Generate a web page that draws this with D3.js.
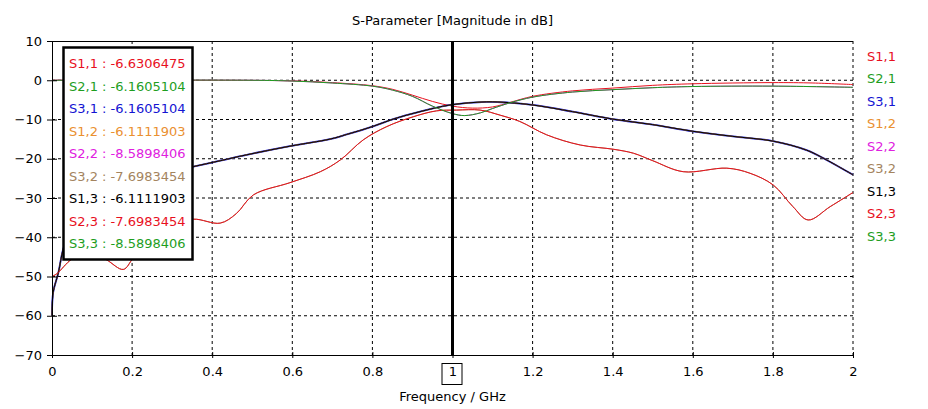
<!DOCTYPE html>
<html>
<head>
<meta charset="utf-8">
<script src="https://cdn.jsdelivr.net/npm/d3@7"></script>
<style>
  body { margin: 0; background: #fff; }
  text { font-family: "DejaVu Sans", sans-serif; font-size: 13px; }
</style>
</head>
<body>
<div id="chart"></div>
<script>
// series order (drawing order as in the legend)
var seriesNames = ["S1,1", "S2,1", "S3,1", "S1,2", "S2,2", "S3,2", "S1,3", "S2,3", "S3,3"];
var markerValues = ["-6.6306475", "-6.1605104", "-6.1605104", "-6.1111903", "-8.5898406",
                    "-7.6983454", "-6.1111903", "-7.6983454", "-8.5898406"];
var seriesColors = ["#e8101e", "#1e9e1e", "#1414d2", "#ea9030", "#e020e0",
                    "#a4845e", "#000000", "#e8101e", "#1e9e1e"];

// S1,1 (reflection at port 1)
var freqRefl = [0, 0.5, 0.6, 0.7, 0.8, 0.85, 0.9, 0.95, 1.0, 1.05, 1.1, 1.145, 1.2, 1.3, 1.4, 1.5, 1.6, 1.8, 1.9, 2];
var s11 = [0, -0.05, -0.15, -0.6, -1.4, -2.3, -3.8, -5.4, -6.6, -7.1, -6.8, -5.6, -4.1, -2.7, -2.0, -1.3, -0.9, -0.6, -0.7, -1.1];

// S2,1 / S3,1 / S1,2 / S1,3 (transmission)
var freqTrans = [0, 0.003, 0.016, 0.028, 0.05, 0.1, 0.2, 0.3, 0.353, 0.42, 0.486, 0.594, 0.694, 0.736, 0.8, 0.852,
                 0.919, 0.994, 1.085, 1.14, 1.2, 1.3, 1.4, 1.5, 1.6, 1.7, 1.8, 1.884, 1.934, 2];
var s21 = [-60, -54, -49, -43, -37, -30, -25.5, -23.2, -22.0, -20.5, -19.0, -16.8, -15.0, -13.8, -11.8, -9.9,
           -8.0, -6.3, -5.5, -5.7, -6.3, -8.0, -9.9, -11.3, -13.0, -14.3, -15.5, -17.8, -20.3, -24.1];

// S2,2 / S3,3
var freqDip = [0, 0.5, 0.6, 0.7, 0.8, 0.85, 0.9, 0.95, 1.0, 1.03, 1.07, 1.1, 1.145, 1.2, 1.3, 1.4, 1.5, 1.6, 1.8, 2];
var s22 = [0, 0, -0.2, -0.7, -1.5, -2.5, -4.1, -6.6, -8.5, -9.0, -8.3, -7.2, -5.7, -4.3, -3.0, -2.4, -1.9, -1.6, -1.5, -1.8];

// S3,2 / S2,3
var freqWavy = [0, 0.012, 0.049, 0.08, 0.11, 0.137, 0.178, 0.203, 0.25, 0.3, 0.353, 0.42, 0.46, 0.503, 0.594, 0.67,
                0.72, 0.777, 0.836, 0.902, 0.96, 1.01, 1.069, 1.119, 1.168, 1.235, 1.319, 1.403, 1.452, 1.5, 1.576,
                1.685, 1.743, 1.801, 1.85, 1.888, 1.943, 2];
var s32 = [-50, -49.3, -45.6, -44.3, -44.5, -45.8, -48.2, -45.3, -40.5, -37, -35.4, -36.4, -34, -29.2, -26.1, -23.3,
           -20.3, -15.2, -11.8, -9.3, -7.8, -7.6, -7.6, -8.9, -10.5, -13.9, -16.5, -17.6, -18.6, -20.5, -23.3,
           -22.4, -23.7, -26.7, -32.2, -35.6, -32.2, -28.6];

var seriesFreq = [freqRefl, freqTrans, freqTrans, freqTrans, freqDip, freqWavy, freqTrans, freqWavy, freqDip];
var seriesVals = [s11, s21, s21, s21, s22, s32, s21, s32, s22];
var seriesWidth = [1, 1, 1.8, 1, 1, 1, 1, 1, 1];

var xTicks = [0, 0.2, 0.4, 0.6, 0.8, 1, 1.2, 1.4, 1.6, 1.8, 2];
var yTicks = [10, 0, -10, -20, -30, -40, -50, -60, -70];
var markerFreq = 1;

var width = 928, height = 409;
var margin = {left: 52, right: 75, top: 41, bottom: 54};

var svg = d3.select("#chart")
    .append("svg")
    .attr("width", width)
    .attr("height", height);

svg.append("rect").attr("width", width).attr("height", height).attr("fill", "#fff");

var x = d3.scaleLinear().domain([0, 2]).range([margin.left, width - margin.right]);
var y = d3.scaleLinear().domain([-70, 10]).range([height - margin.bottom, margin.top]);

// grid
svg.append("g").selectAll("line")
    .data(xTicks.slice(1))
  .enter().append("line")
    .attr("x1", function(d) { return x(d); })
    .attr("x2", function(d) { return x(d); })
    .attr("y1", y(10)).attr("y2", y(-70))
    .attr("stroke", "#000").attr("stroke-dasharray", "3,3");

svg.append("g").selectAll("line")
    .data(yTicks.slice(1, -1))
  .enter().append("line")
    .attr("x1", x(0)).attr("x2", x(2))
    .attr("y1", function(d) { return y(d); })
    .attr("y2", function(d) { return y(d); })
    .attr("stroke", "#000").attr("stroke-dasharray", "3,3");

svg.append("line")
    .attr("x1", x(0)).attr("x2", x(2))
    .attr("y1", y(10) + 0.5).attr("y2", y(10) + 0.5)
    .attr("stroke", "#000");

// curves
var line = d3.line().curve(d3.curveCatmullRom.alpha(0.5));
var plot = svg.append("g");

seriesNames.forEach(function(name, i) {
  var pts = seriesFreq[i].map(function(f, j) { return [x(f), y(seriesVals[i][j])]; });
  plot.append("path")
      .attr("d", line(pts))
      .attr("fill", "none")
      .attr("stroke", seriesColors[i])
      .attr("stroke-width", seriesWidth[i]);
});

// marker line
svg.append("line")
    .attr("x1", x(markerFreq)).attr("x2", x(markerFreq))
    .attr("y1", y(10)).attr("y2", y(-70))
    .attr("stroke", "#000").attr("stroke-width", 3);

// axes
var yAxis = svg.append("g")
    .attr("transform", "translate(" + x(0) + ",0)")
    .call(d3.axisLeft(y).tickValues(yTicks).tickSize(5).tickPadding(5));
yAxis.selectAll(".tick line").attr("x1", 5);
yAxis.select(".domain").attr("d", "M0.5," + y(10) + "V" + y(-70));

var xAxis = svg.append("g")
    .attr("transform", "translate(0," + y(-70) + ")")
    .call(d3.axisBottom(x).tickValues(xTicks).tickSize(3).tickPadding(9)
      .tickFormat(function(d) { return d3.format("~g")(d); }));
xAxis.selectAll(".tick line").attr("y1", -3);
xAxis.select(".domain").attr("d", "M" + x(0) + ",0.5H" + x(2));

svg.selectAll(".tick text")
    .attr("fill", "#000")
    .style("font-family", "DejaVu Sans, sans-serif").style("font-size", "13px");

// box around the marker frequency label
svg.append("rect")
    .attr("x", x(markerFreq) - 10.5).attr("y", y(-70) + 8.5)
    .attr("width", 20).attr("height", 21)
    .attr("fill", "none").attr("stroke", "#000");

// titles
svg.append("text")
    .attr("x", (x(0) + x(2)) / 2).attr("y", 25)
    .attr("text-anchor", "middle")
    .text("S-Parameter [Magnitude in dB]");

svg.append("text")
    .attr("x", x(markerFreq)).attr("y", 401)
    .attr("text-anchor", "middle")
    .text("Frequency / GHz");

// marker value box
var box = svg.append("g");
box.append("rect")
    .attr("x", 63.5).attr("y", 47.5)
    .attr("width", 129).attr("height", 212)
    .attr("fill", "#fff").attr("stroke", "#000").attr("stroke-width", 2.5);

box.selectAll("text")
    .data(seriesNames)
  .enter().append("text")
    .attr("x", 69)
    .attr("y", function(d, i) { return 68 + i * 22.5; })
    .attr("fill", function(d, i) { return seriesColors[i]; })
    .text(function(d, i) { return d + " : " + markerValues[i]; });

// right legend
svg.append("g").selectAll("text")
    .data(seriesNames)
  .enter().append("text")
    .attr("x", 867)
    .attr("y", function(d, i) { return 60.5 + i * 22.5; })
    .attr("fill", function(d, i) { return seriesColors[i]; })
    .text(function(d) { return d; });
</script>
</body>
</html>
